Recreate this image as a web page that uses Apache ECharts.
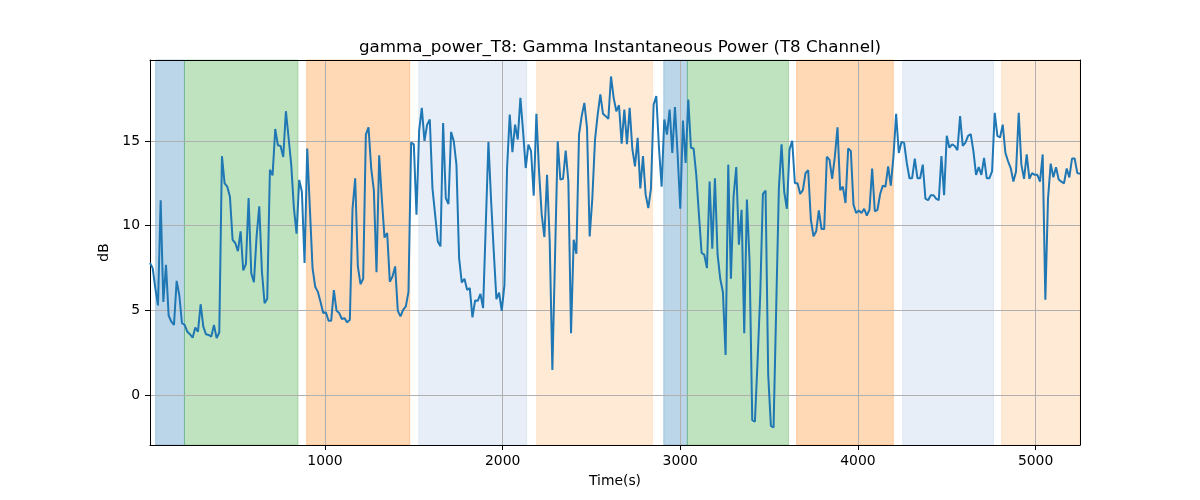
<!DOCTYPE html>
<html>
<head>
<meta charset="utf-8">
<script src="https://cdn.jsdelivr.net/npm/echarts@6/dist/echarts.min.js"></script>
<style>
  html, body { margin: 0; background: #fff; }
  #chart { width: 1200px; height: 500px; }
</style>
</head>
<body>
<div id="chart"></div>
<script>
// time stamps (s), one window every 15 s
const times = [
  15, 30, 45, 60, 75, 90, 105, 120, 135, 150,
  165, 180, 195, 210, 225, 240, 255, 270, 285, 300,
  315, 330, 345, 360, 375, 390, 405, 420, 435, 450,
  465, 480, 495, 510, 525, 540, 555, 570, 585, 600,
  615, 630, 645, 660, 675, 690, 705, 720, 735, 750,
  765, 780, 795, 810, 825, 840, 855, 870, 885, 900,
  915, 930, 945, 960, 975, 990, 1005, 1020, 1035, 1050,
  1065, 1080, 1095, 1110, 1125, 1140, 1155, 1170, 1185, 1200,
  1215, 1230, 1245, 1260, 1275, 1290, 1305, 1320, 1335, 1350,
  1365, 1380, 1395, 1410, 1425, 1440, 1455, 1470, 1485, 1500,
  1515, 1530, 1545, 1560, 1575, 1590, 1605, 1620, 1635, 1650,
  1665, 1680, 1695, 1710, 1725, 1740, 1755, 1770, 1785, 1800,
  1815, 1830, 1845, 1860, 1875, 1890, 1905, 1920, 1935, 1950,
  1965, 1980, 1995, 2010, 2025, 2040, 2055, 2070, 2085, 2100,
  2115, 2130, 2145, 2160, 2175, 2190, 2205, 2220, 2235, 2250,
  2265, 2280, 2295, 2310, 2325, 2340, 2355, 2370, 2385, 2400,
  2415, 2430, 2445, 2460, 2475, 2490, 2505, 2520, 2535, 2550,
  2565, 2580, 2595, 2610, 2625, 2640, 2655, 2670, 2685, 2700,
  2715, 2730, 2745, 2760, 2775, 2790, 2805, 2820, 2835, 2850,
  2865, 2880, 2895, 2910, 2925, 2940, 2955, 2970, 2985, 3000,
  3015, 3030, 3045, 3060, 3075, 3090, 3105, 3120, 3135, 3150,
  3165, 3180, 3195, 3210, 3225, 3240, 3255, 3270, 3285, 3300,
  3315, 3330, 3345, 3360, 3375, 3390, 3405, 3420, 3435, 3450,
  3465, 3480, 3495, 3510, 3525, 3540, 3555, 3570, 3585, 3600,
  3615, 3630, 3645, 3660, 3675, 3690, 3705, 3720, 3735, 3750,
  3765, 3780, 3795, 3810, 3825, 3840, 3855, 3870, 3885, 3900,
  3915, 3930, 3945, 3960, 3975, 3990, 4005, 4020, 4035, 4050,
  4065, 4080, 4095, 4110, 4125, 4140, 4155, 4170, 4185, 4200,
  4215, 4230, 4245, 4260, 4275, 4290, 4305, 4320, 4335, 4350,
  4365, 4380, 4395, 4410, 4425, 4440, 4455, 4470, 4485, 4500,
  4515, 4530, 4545, 4560, 4575, 4590, 4605, 4620, 4635, 4650,
  4665, 4680, 4695, 4710, 4725, 4740, 4755, 4770, 4785, 4800,
  4815, 4830, 4845, 4860, 4875, 4890, 4905, 4920, 4935, 4950,
  4965, 4980, 4995, 5010, 5025, 5040, 5055, 5070, 5085, 5100,
  5115, 5130, 5145, 5160, 5175, 5190, 5205, 5220, 5235, 5250
];

// gamma power in dB
const gammaPower = [
  7.8, 7.5, 6.3, 5.3, 11.5, 5.5, 7.7, 4.7, 4.35, 4.15,
  6.75, 5.9, 4.25, 4.15, 3.75, 3.6, 3.4, 4.0, 3.75, 5.37,
  4.05, 3.6, 3.56, 3.46, 4.15, 3.37, 3.7, 14.1, 12.5, 12.3,
  11.7, 9.17, 8.98, 8.5, 9.67, 7.36, 7.74, 11.63, 7.2, 6.67,
  9.37, 11.14, 7.3, 5.43, 5.69, 13.3, 12.97, 15.7, 14.74, 14.7,
  14.05, 16.75, 15.2, 13.6, 11.04, 9.53, 12.7, 12.0, 7.8, 14.55,
  11.0, 7.5, 6.4, 6.1, 5.5, 4.85, 4.9, 4.4, 4.4, 6.2,
  4.98, 4.85, 4.5, 4.55, 4.3, 4.45, 11.0, 12.8, 7.6, 6.55,
  6.87, 15.37, 15.8, 13.4, 12.1, 7.26, 14.15, 11.6, 9.3, 9.57,
  6.7, 7.0, 7.6, 4.98, 4.65, 5.04, 5.24, 6.1, 14.9, 14.8,
  10.65, 15.6, 16.95, 15.0, 15.96, 16.26, 12.2, 10.65, 9.07, 8.78,
  16.06, 11.63, 11.28, 15.53, 14.98, 13.6, 8.09, 6.65, 6.87, 6.22,
  6.32, 4.59, 5.59, 5.57, 5.98, 5.14, 10.0, 14.94, 11.5, 8.48,
  5.67, 6.06, 4.98, 6.5, 13.4, 16.55, 14.33, 15.96, 15.08, 17.54,
  15.57, 13.4, 14.78, 14.4, 11.77, 16.6, 13.2, 10.65, 9.33, 13.0,
  9.07, 1.5, 8.2, 14.98, 12.72, 12.76, 14.43, 12.62, 3.66, 9.17,
  8.35, 15.37, 16.46, 17.24, 15.77, 9.37, 11.63, 15.08, 16.55, 17.74,
  16.6, 16.46, 16.3, 18.8, 17.54, 16.75, 17.1, 14.84, 16.85, 14.8,
  16.95, 14.55, 13.5, 15.18, 12.2, 14.1, 11.83, 11.04, 12.2, 17.15,
  17.64, 14.6, 12.3, 16.26, 15.37, 16.85, 14.29, 17.0, 14.2, 11.0,
  16.2, 13.7, 17.44, 14.6, 14.55, 13.0, 10.65, 8.39, 8.29, 7.5,
  12.6, 8.64, 12.8, 8.29, 6.87, 6.08, 2.38, 13.6, 6.87, 11.73,
  13.46, 8.88, 10.94, 3.66, 11.54, 7.9, -1.46, -1.56, 2.0, 5.93,
  11.87, 12.07, 1.2, -1.8, -1.9, 5.2, 12.2, 14.8, 12.0, 11.0,
  14.5, 15.0, 12.5, 12.5, 11.87, 12.1, 13.1, 13.27, 10.35, 9.37,
  9.67, 10.9, 9.8, 9.8, 14.07, 13.88, 12.76, 14.07, 15.8, 12.1,
  12.3, 11.34, 14.55, 14.4, 11.24, 10.75, 10.9, 10.75, 11.0, 10.6,
  10.94, 13.37, 10.85, 10.94, 11.87, 12.36, 12.3, 13.5, 12.36, 14.07,
  16.6, 14.29, 14.94, 14.88, 13.7, 12.8, 12.8, 13.96, 12.8, 12.8,
  13.6, 11.6, 11.5, 11.8, 11.8, 11.6, 11.5, 14.1, 11.8, 15.3,
  14.6, 14.8, 14.7, 14.45, 16.46, 14.7, 14.9, 15.3, 15.4, 14.4,
  13.0, 13.45, 13.0, 14.0, 12.8, 12.8, 13.2, 16.66, 15.3, 15.2,
  15.96, 14.3, 13.8, 13.4, 12.6, 13.2, 16.66, 13.6, 12.76, 14.2,
  12.76, 13.1, 13.0, 13.0, 12.6, 14.2, 5.63, 11.6, 13.66, 12.85,
  13.45, 12.72, 12.6, 12.5, 13.37, 12.85, 13.96, 13.96, 13.1, 13.06
];

// shaded stages
const stageStart = [47, 209, 897, 1528, 2192, 2907, 3040, 3655, 4252, 4809];
const stageEnd   = [209, 848, 1477, 2135, 2843, 3040, 3609, 4199, 4763, 5250];
const stageKind  = ['a', 'b', 'c', 'd', 'e', 'a', 'b', 'c', 'd', 'e'];

const xTicks = [1000, 2000, 3000, 4000, 5000];
const yTicks = [0, 5, 10, 15];

const stageColor = {
  a: 'rgba(31,119,180,0.3)',
  b: 'rgba(44,160,44,0.3)',
  c: 'rgba(255,127,14,0.3)',
  d: 'rgba(174,199,232,0.3)',
  e: 'rgba(255,187,120,0.3)'
};

const chart = echarts.init(document.getElementById('chart'));

const areas = stageStart.map(function (s, i) {
  const c = stageColor[stageKind[i]];
  return [
    { xAxis: s, itemStyle: { color: c, borderColor: c, borderWidth: 1 } },
    { xAxis: stageEnd[i] }
  ];
});

const points = times.map(function (t, i) { return [t, gammaPower[i]]; });

const xMin = 15, xMax = 5250, yMin = -2.93, yMax = 19.77;
const font = 'DejaVu Sans';

chart.setOption({
  animation: false,
  title: {
    text: 'gamma_power_T8: Gamma Instantaneous Power (T8 Channel)',
    left: 615,
    top: 34,
    textAlign: 'center',
    textStyle: { fontFamily: font, fontSize: 16.7, fontWeight: 'normal', color: '#000' }
  },
  grid: { left: 150, right: 120, top: 60, bottom: 55 },
  xAxis: [
    {
      type: 'value', min: xMin, max: xMax, z: 3,
      name: 'Time(s)', nameLocation: 'middle', nameGap: 29,
      nameTextStyle: { fontFamily: font, fontSize: 13.9, color: '#000' },
      axisLine: { show: true, onZero: false, lineStyle: { color: '#000', width: 1 } },
      axisTick: { show: true, length: 5, customValues: xTicks, lineStyle: { color: '#000', width: 1 } },
      axisLabel: {
        customValues: xTicks, margin: 9, fontFamily: font, fontSize: 13.9, color: '#000',
        formatter: function (v) { return String(v); }
      },
      splitLine: { show: true, lineStyle: { color: '#b0b0b0', width: 1 } }
    },
    {
      type: 'value', min: xMin, max: xMax, position: 'top', z: 3,
      axisLine: { show: true, onZero: false, lineStyle: { color: '#000', width: 1 } },
      axisTick: { show: false }, axisLabel: { show: false }, splitLine: { show: false }
    }
  ],
  yAxis: [
    {
      type: 'value', min: yMin, max: yMax, z: 3,
      name: 'dB', nameLocation: 'middle', nameGap: 35,
      nameTextStyle: { fontFamily: font, fontSize: 13.9, color: '#000' },
      axisLine: { show: true, onZero: false, lineStyle: { color: '#000', width: 1 } },
      axisTick: { show: true, length: 5, customValues: yTicks, lineStyle: { color: '#000', width: 1 } },
      axisLabel: { customValues: yTicks, margin: 10, fontFamily: font, fontSize: 13.9, color: '#000' },
      splitLine: { show: true, lineStyle: { color: '#b0b0b0', width: 1 } }
    },
    {
      type: 'value', min: yMin, max: yMax, position: 'right', z: 3,
      axisLine: { show: true, onZero: false, lineStyle: { color: '#000', width: 1 } },
      axisTick: { show: false }, axisLabel: { show: false }, splitLine: { show: false }
    }
  ],
  series: [
    {
      type: 'line', z: 1, silent: true, symbol: 'none',
      data: points,
      lineStyle: { opacity: 0 },
      markArea: { silent: true, data: areas }
    },
    {
      type: 'line', z: 5, symbol: 'none',
      data: points,
      lineStyle: { color: '#1f77b4', width: 2 }
    }
  ]
});
</script>
</body>
</html>
